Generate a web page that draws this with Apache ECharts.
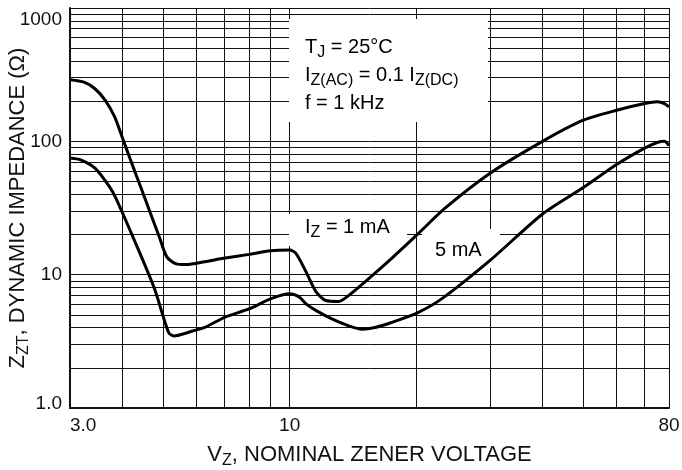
<!DOCTYPE html>
<html><head><meta charset="utf-8">
<script src="https://cdn.jsdelivr.net/npm/echarts@6/dist/echarts.min.js"></script>
<style>html,body{margin:0;padding:0;background:#fff}#c{width:682px;height:470px}</style>
</head><body><div id="c"></div>
<script>
// ---- data ----
const xGridValues = [3,4,5,6,7,8,9,10,20,30,40,50,60,70,80];
const yGridValues = [1,2,3,4,5,6,7,8,9,10,20,30,40,50,60,70,80,90,100,200,300,400,500,600,700,800,900,1000];
const xLabelValues = [3,10,80];
const xLabelTexts = ['3.0','10','80'];
const yLabelValues = [1,10,100,1000];
const yLabelTexts = ['1.0','10','100','1000'];

const vz1mA = [3.0,3.24,3.44,3.64,3.83,4.0,4.17,4.32,4.42,4.66,4.9,5.1,5.35,5.67,6.28,6.9,8.0,9.0,10.0,10.36,10.94,11.54,12.19,13.1,13.83,15.4,17.47,20,23.4,30,40,50,60,70,75,78,80];
const zt1mA = [290,278,248,203,153,106,74,55,45.5,29,19,13.6,12.1,11.9,12.5,13.2,14.2,15.1,15.3,14.4,10.5,7.5,6.4,6.3,7.0,9.3,13.2,19.6,31.4,57.7,100,144,171,192,198,192,181];

const vz5mA = [3.0,3.18,3.44,3.72,3.86,4.32,4.77,5.15,5.3,5.88,6.28,7,8,9,10,10.56,10.94,11.54,12.64,13.83,14.86,15.97,17.47,20.2,23,30,40,50,60,70,75,78,80];
const zt5mA = [75,72.7,63,46,37.4,16.6,7.8,3.68,3.47,3.78,4.02,4.79,5.53,6.58,7.18,6.78,6.03,5.4,4.64,4.13,3.9,4.02,4.38,5.2,6.58,12.8,28.5,45,67,89,98,100,93];

// ---- chart ----
const FONT = "'Liberation Sans', Arial, sans-serif";
const pair = (xs, ys) => xs.map((x, i) => [x, ys[i]]);
const gridLine = { show: true, lineStyle: { color: '#111', width: 1 } };
const subRich = (main, sub) => ({
  m: { fontFamily: FONT, fontSize: main, color: '#111', lineHeight: 28 },
  s: { fontFamily: FONT, fontSize: sub, color: '#111', lineHeight: 15, verticalAlign: 'bottom' }
});

const chart = echarts.init(document.getElementById('c'), null, { renderer: 'canvas' });
chart.setOption({
  animation: false,
  backgroundColor: '#fff',
  grid: { left: 70, right: 13, top: 8, bottom: 62, containLabel: false, outerBoundsMode: 'none' },
  xAxis: {
    type: 'log', logBase: 10, min: 3, max: 80,
    name: '{m|V}{s|Z}{m|, NOMINAL ZENER VOLTAGE}',
    nameLocation: 'middle', nameGap: 33, nameMoveOverlap: false,
    nameTextStyle: { rich: subRich(22, 16) },
    axisLine: { show: true, lineStyle: { color: '#111', width: 2 } },
    axisTick: { show: false, customValues: xGridValues },
    splitLine: gridLine,
    minorTick: { show: false }, minorSplitLine: { show: false },
    axisLabel: {
      customValues: xLabelValues,
      formatter: v => xLabelTexts[xLabelValues.indexOf(+v)] ?? '',
      fontFamily: FONT, fontSize: 19, color: '#111', margin: 8,
      alignMinLabel: 'left'
    }
  },
  yAxis: {
    type: 'log', logBase: 10, min: 1, max: 1000,
    name: '{m|Z}{s|ZT}{m|, DYNAMIC IMPEDANCE (Ω)}',
    nameLocation: 'middle', nameGap: 38, nameMoveOverlap: false,
    nameTextStyle: { rich: subRich(22, 16) },
    axisLine: { show: true, lineStyle: { color: '#111', width: 2 } },
    axisTick: { show: false, customValues: yGridValues },
    splitLine: gridLine,
    axisLabel: {
      customValues: yLabelValues,
      formatter: v => {
        const t = yLabelTexts[yLabelValues.indexOf(+v)] ?? '';
        if (+v === 1000) return '{top|' + t + '}';
        if (+v === 1) return '{bot|' + t + '}';
        return t;
      },
      rich: {
        top: { fontFamily: FONT, fontSize: 19, color: '#111', padding: [24, 0, 0, 0] },
        bot: { fontFamily: FONT, fontSize: 19, color: '#111', padding: [0, 0, 8, 0] }
      },
      fontFamily: FONT, fontSize: 19, color: '#111', margin: 8
    }
  },
  series: [
    { name: '1 mA', type: 'line', data: pair(vz1mA, zt1mA), showSymbol: false, smooth: 0.25, z: 5,
      lineStyle: { color: '#000', width: 3 } },
    { name: '5 mA', type: 'line', data: pair(vz5mA, zt5mA), showSymbol: false, smooth: 0.25, z: 5,
      lineStyle: { color: '#000', width: 3 } }
  ],
  graphic: [
    { type: 'rect', z: 1, shape: { x: 289, y: 19, width: 199, height: 103 }, style: { fill: '#fff' } },
    { type: 'rect', z: 1, shape: { x: 289, y: 214, width: 118, height: 32 }, style: { fill: '#fff' } },
    { type: 'rect', z: 1, shape: { x: 422, y: 229, width: 78, height: 39 }, style: { fill: '#fff' } },
    { type: 'text', z: 10, x: 305, y: 33, style: {
        text: '{m|T}{s|J}{m| = 25°C}\n{m|I}{s|Z(AC)}{m| = 0.1 I}{s|Z(DC)}\n{m|f = 1 kHz}',
        rich: subRich(20, 16) } },
    { type: 'text', z: 10, x: 305, y: 213, style: {
        text: '{m|I}{s|Z}{m| = 1 mA}', rich: subRich(20, 16) } },
    { type: 'text', z: 10, x: 435, y: 236, style: {
        text: '{m|5 mA}', rich: subRich(20, 16) } }
  ]
});
</script></body></html>
